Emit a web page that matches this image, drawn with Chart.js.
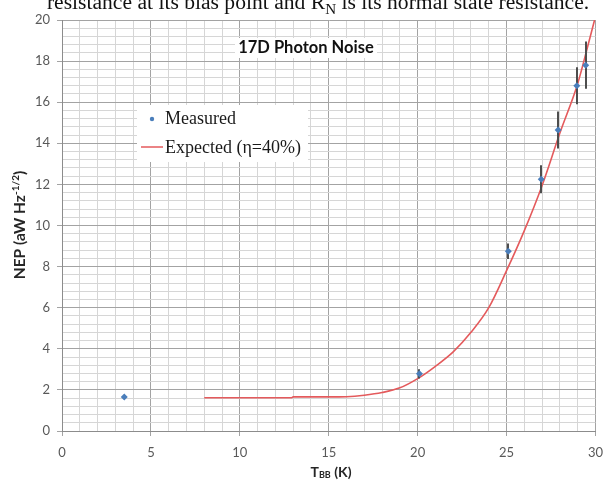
<!DOCTYPE html>
<html>
<head>
<meta charset="utf-8">
<script src="https://cdn.jsdelivr.net/npm/chart.js@4"></script>
<style>
    body { margin: 0; background: #fff; }
    #page { position: relative; width: 612px; height: 485px; overflow: hidden; }
    #myChart { position: absolute; left: 0; top: 0; }
    #texte-haut {
        position: absolute; left: 0; top: -8px; width: 636px;
        text-align: center; white-space: nowrap;
        font-family: 'Liberation Serif'; font-size: 21.6px; line-height: 20px; color: #111;
    }
    #texte-haut sub { font-size: 0.7em; line-height: 0; vertical-align: -0.3em; }
</style>
</head>
<body>
<div id="page">
    <canvas id="myChart" width="612" height="485"></canvas>
    <div id="texte-haut">resistance at its bias point and R<sub>N</sub> is its normal state resistance.</div>
</div>
<script>
// Points mesurés : température du corps noir (K) et NEP (aW Hz^-1/2)
const measuredT = [3.5, 20.1, 25.1, 26.95, 27.9, 28.95, 29.45];
const measuredNep = [1.65, 2.78, 8.75, 12.25, 14.65, 16.8, 17.8];
// Demi-longueur des barres d'erreur
const nepErr = [0, 0.22, 0.38, 0.68, 0.9, 0.9, 1.15];

// Courbe attendue (η = 40 %)
const expectedT = [8, 10, 12, 12.9, 13, 14, 15, 16, 17, 18, 19, 20, 21, 22, 23, 24, 25, 26, 27, 28, 29, 29.5, 29.95];
const expectedNep = [1.62, 1.62, 1.62, 1.62, 1.66, 1.66, 1.66, 1.67, 1.74, 1.87, 2.1, 2.55, 3.15, 3.85, 4.8, 6.0, 7.8, 9.75, 11.95, 14.5, 16.9, 18.5, 20];

const legendLabels = ['Measured', 'Expected (η=40%)'];
const chartTitle = '17D Photon Noise';

const BLUE = '#4a7ebb';
const RED = '#e45a5c';

/**
 * Dessine un texte composé de morceaux (indices / exposants), centré sur (x, y).
 * @param {CanvasRenderingContext2D} ctx
 * @param {Array} parts - morceaux {text, size, dy}
 */
function drawRichText(ctx, parts, x, y)
{
    let width = 0;
    parts.forEach(p => {
        ctx.font = `bold ${p.size}px Lato`;
        width += ctx.measureText(p.text).width;
    });
    let cx = x - width / 2;
    ctx.textBaseline = 'middle';
    ctx.textAlign = 'left';
    parts.forEach(p => {
        ctx.font = `bold ${p.size}px Lato`;
        ctx.fillText(p.text, cx, y + p.dy);
        cx += ctx.measureText(p.text).width;
    });
}

/**
 * Barres d'erreur verticales, tracées entre la courbe et les points.
 */
const errorBarsPlugin = {
    id: 'errorBars',
    afterDatasetDraw(chart, args)
    {
        if (args.index !== 1) {
            return;
        }
        const ctx = chart.ctx;
        const xs = chart.scales.x;
        const ys = chart.scales.y;
        ctx.save();
        ctx.strokeStyle = '#4d4d4d';
        ctx.lineWidth = 2;
        measuredT.forEach((t, i) => {
            if (!nepErr[i]) {
                return;
            }
            const px = Math.round(xs.getPixelForValue(t));
            ctx.beginPath();
            ctx.moveTo(px, ys.getPixelForValue(measuredNep[i] - nepErr[i]));
            ctx.lineTo(px, ys.getPixelForValue(measuredNep[i] + nepErr[i]));
            ctx.stroke();
        });
        ctx.restore();
    }
};

/**
 * Titre dans la zone du graphique, légende encadrée et titres des axes.
 */
const decorPlugin = {
    id: 'decor',
    afterDatasetsDraw(chart)
    {
        const ctx = chart.ctx;
        ctx.save();

        // titre sur fond blanc
        ctx.fillStyle = '#fff';
        ctx.fillRect(235, 38, 142, 20);
        ctx.fillStyle = '#111';
        ctx.font = 'bold 16.5px Lato';
        ctx.textAlign = 'center';
        ctx.textBaseline = 'middle';
        ctx.fillText(chartTitle, 306, 48);

        // légende
        ctx.fillStyle = '#fff';
        ctx.fillRect(137, 105, 171, 57);
        ctx.fillStyle = BLUE;
        ctx.beginPath();
        ctx.arc(152, 119, 2.2, 0, Math.PI * 2);
        ctx.fill();
        ctx.strokeStyle = RED;
        ctx.lineWidth = 1.5;
        ctx.beginPath();
        ctx.moveTo(141, 147);
        ctx.lineTo(163, 147);
        ctx.stroke();
        ctx.fillStyle = '#1a1a1a';
        ctx.font = '18px "Liberation Serif"';
        ctx.textAlign = 'left';
        ctx.fillText(legendLabels[0], 165, 119);
        ctx.fillText(legendLabels[1], 165, 148);

        // titres des axes
        ctx.fillStyle = '#262626';
        drawRichText(ctx, [
            { text: 'T', size: 14, dy: 0 },
            { text: 'BB', size: 9, dy: 3 },
            { text: ' (K)', size: 14, dy: 0 },
        ], 331, 472);
        ctx.translate(20, 225);
        ctx.rotate(-Math.PI / 2);
        drawRichText(ctx, [
            { text: 'NEP (aW Hz', size: 15.5, dy: 0 },
            { text: '-1/2', size: 10, dy: -4.5 },
            { text: ')', size: 15.5, dy: 0 },
        ], 0, 0);
        ctx.restore();
    }
};

const isMultiple = (v, step) => Math.abs(v / step - Math.round(v / step)) < 1e-6;

const ctx = document.getElementById('myChart').getContext('2d');

const config = {
    type: 'scatter',
    data: {
        datasets: [
            {
                label: legendLabels[0],
                data: measuredT.map((t, i) => ({ x: t, y: measuredNep[i] })),
                pointStyle: 'rectRot',
                pointRadius: 3.5,
                backgroundColor: BLUE,
                borderColor: BLUE,
                borderWidth: 0,
            },
            {
                label: legendLabels[1],
                data: expectedT.map((t, i) => ({ x: t, y: expectedNep[i] })),
                showLine: true,
                pointRadius: 0,
                borderColor: RED,
                borderWidth: 1.6,
                cubicInterpolationMode: 'monotone',
            },
        ],
    },
    options: {
        responsive: false,
        animation: false,
        layout: { padding: { left: 0, top: 20, right: 14, bottom: 0 } },
        plugins: {
            legend: { display: false },
            tooltip: { enabled: false },
        },
        scales: {
            x: {
                type: 'linear',
                min: 0,
                max: 30,
                afterFit: scale => { scale.height = 54; },
                ticks: {
                    stepSize: 1,
                    autoSkip: false,
                    maxRotation: 0,
                    padding: 9,
                    color: '#595959',
                    font: { family: 'Lato', size: 13 },
                    callback: v => (isMultiple(v, 5) ? v : ''),
                },
                grid: {
                    color: c => (isMultiple(c.tick.value, 5) ? '#a3a3a3' : '#d6d6d6'),
                    tickColor: c => (isMultiple(c.tick.value, 5) ? '#a3a3a3' : 'rgba(0,0,0,0)'),
                    tickLength: 5,
                },
                border: { color: '#8c8c8c' },
            },
            y: {
                type: 'linear',
                min: 0,
                max: 20,
                afterFit: scale => { scale.width = 62; },
                ticks: {
                    stepSize: 0.4,
                    autoSkip: false,
                    padding: 7,
                    color: '#595959',
                    font: { family: 'Lato', size: 13 },
                    callback: v => (isMultiple(v, 2) ? Math.round(v) : ''),
                },
                grid: {
                    color: c => (isMultiple(c.tick.value, 2) ? '#a3a3a3' : '#d6d6d6'),
                    tickColor: c => (isMultiple(c.tick.value, 2) ? '#a3a3a3' : 'rgba(0,0,0,0)'),
                    tickLength: 5,
                },
                border: { color: '#8c8c8c' },
            },
        },
    },
    plugins: [errorBarsPlugin, decorPlugin],
};

const myChart = new Chart(ctx, config);
</script>
</body>
</html>
